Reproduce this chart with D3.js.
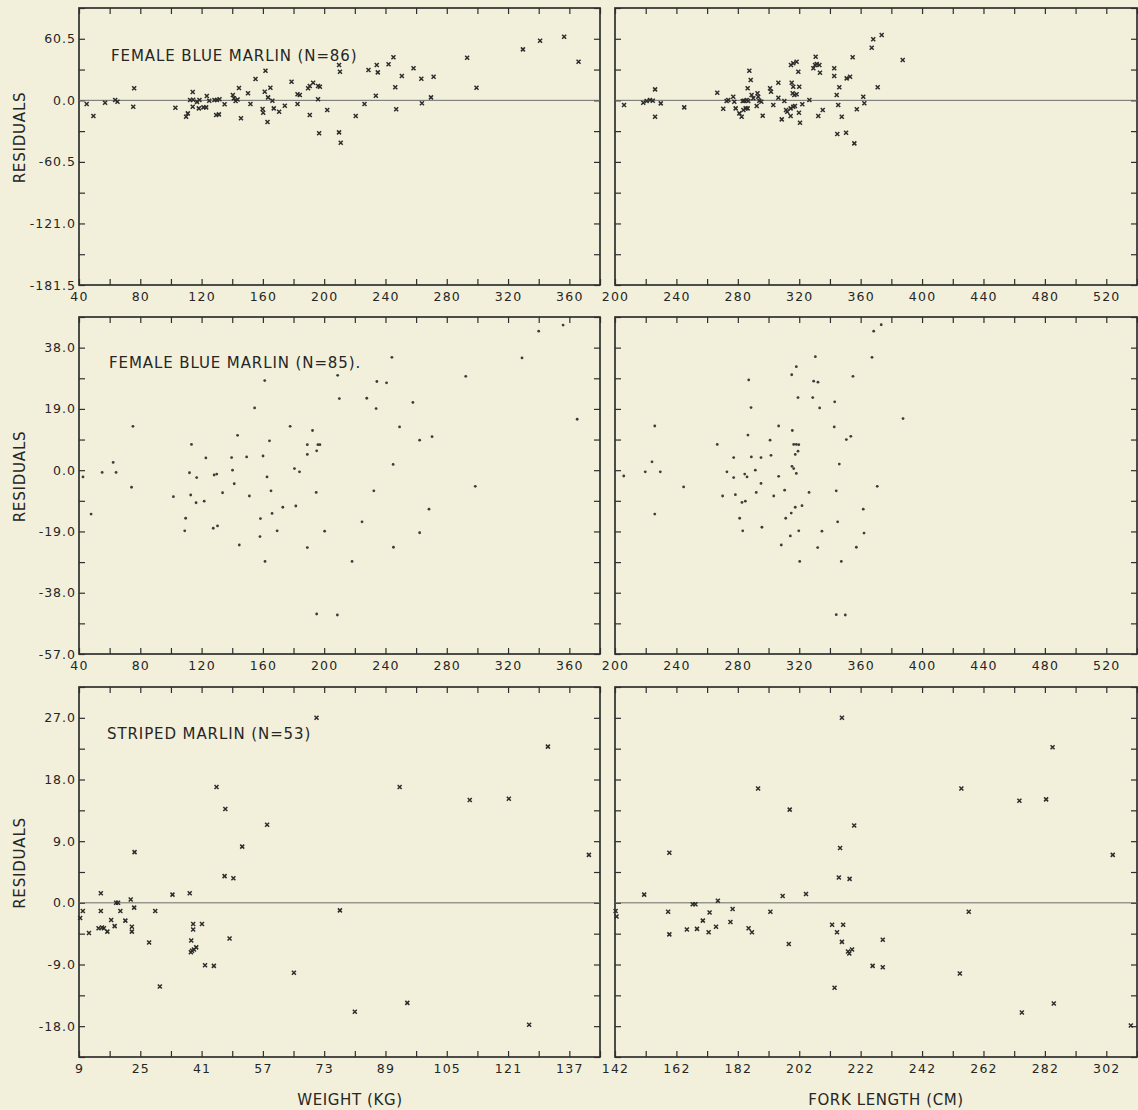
<!DOCTYPE html>
<html><head><meta charset="utf-8">
<script src="https://cdn.jsdelivr.net/npm/d3@7"></script>
<style>
html,body{margin:0;padding:0;background:#f2f0db;}
svg{display:block;}
text{font-family:"DejaVu Sans",sans-serif;fill:#262626;}
</style></head><body>
<svg id="chart" width="1138" height="1110"></svg>
<script>
// ---------- tick label values ----------
const blueWeightLabels = [40, 80, 120, 160, 200, 240, 280, 320, 360];
const blueLengthLabels = [200, 240, 280, 320, 360, 400, 440, 480, 520];
const stripedWeightLabels = [9, 25, 41, 57, 73, 89, 105, 121, 137];
const stripedLengthLabels = [142, 162, 182, 202, 222, 242, 262, 282, 302];
const resid86Labels = [-181.5, -121.0, -60.5, 0.0, 60.5];
const resid85Labels = [-57.0, -38.0, -19.0, 0.0, 19.0, 38.0];
const resid53Labels = [-18.0, -9.0, 0.0, 9.0, 18.0, 27.0];

// ---------- series: [x, residual] ----------
const blue86Weight = [[45,-3.6],[49.4,-15.4],[57,-2.4],[63.6,0.3],[65.1,-1.4],[76,11.8],[75.4,-6.3],[102.9,-7.3],[109.9,-16.1],[111,-12.8],[114.2,8.2],[112.5,0.3],[114.5,0.5],[114.2,-6.3],[117,-1.5],[118.2,-7.9],[118.6,0.3],[123,-6.9],[121.2,-6.9],[123.4,4.2],[125,-0.5],[128.4,0.3],[130,0.3],[131.7,1],[129.5,-14.4],[131.3,-13.8],[135,-3.9],[140.4,5.2],[141.1,2],[142.2,-0.7],[143.5,0.8],[144.4,12.1],[145.7,-17.7],[150.3,6.9],[151.9,-3.6],[155.2,20.9],[159.8,-8.6],[160.2,-12.2],[161.7,29.1],[161.2,8.5],[163,-21.3],[163.4,2.9],[164.9,12.4],[166.2,-0.4],[167.1,-7.9],[170.6,-11.2],[174.3,-5.3],[178.7,18.3],[182.6,5.9],[184.1,5.2],[182.6,-3.6],[189.5,11.8],[190.6,14.1],[192.8,17.3],[190.6,-14.4],[196,14.1],[197.2,13.4],[196,1],[196.7,-32.4],[202,-9.5],[209.7,34.7],[210.3,28.1],[209.7,-31.5],[210.8,-41.7],[220.6,-15.4],[226.3,-3.6],[228.9,29.8],[234.3,34.7],[235,27.5],[233.7,4.5],[242,35.4],[245.2,42.3],[246.4,12.8],[247,-8.8],[250.7,23.9],[258.3,31.5],[263.4,21.2],[263.8,-2.9],[269.7,2.9],[271.4,23.2],[293.3,41.9],[299.4,12.4],[329.7,50.1],[340.9,58.6],[356.6,62.5],[366,37.9]];

const blue86Length = [[205.9,-4.6],[218.4,-2.4],[220.6,-0.7],[222.8,0.3],[224.6,-0.4],[226.1,10.8],[226.1,-16.1],[229.8,-3],[245.1,-6.9],[266.6,7.5],[270.5,-8.3],[272.7,-0.7],[273.8,0.3],[277,3.5],[277.7,-1.4],[278.6,-7.9],[281,-12.8],[282.5,-16.1],[283.2,-0.7],[284.2,-0.4],[285.8,0.3],[286.8,-0.7],[283.6,-9.5],[285.1,-7.9],[286.4,-7.9],[286.4,11.8],[287.5,29.1],[288.4,20],[289,5.2],[290.1,2],[292.8,6.9],[293.3,3.5],[294,-0.4],[295.3,-1.4],[292.3,-5.6],[296.2,-15.1],[301,11.8],[301.6,8.5],[303.1,-4.6],[306.4,17.3],[306.4,2.6],[308.6,-18.7],[310.3,-0.7],[311.4,-9.5],[312.2,-11.2],[314.6,34.7],[316.1,36.4],[318.3,38],[315.1,17.3],[316.1,13.4],[320,13.4],[315.7,6.9],[316.8,5.2],[318.3,5.9],[314.4,-7.9],[316.1,-6.3],[317.2,-5.6],[314.4,-15.4],[319.4,28.1],[319.8,-12.2],[320.5,-22],[322,-3.9],[326.6,0.3],[329.2,31.5],[330.3,34.7],[331.4,35.7],[333.1,34.7],[330.7,42.9],[333.5,27.1],[332.4,-15.4],[335.3,-9.5],[342.8,31.5],[342.8,23.9],[344.4,5.2],[344.8,-33.1],[345.4,-4.6],[346.1,12.8],[347.7,-16.1],[350.5,-31.8],[350.9,21.6],[353.1,23.2],[354.8,42.3],[355.9,-42.3],[357.5,-8.8],[361.7,3.5],[362.4,-2.9],[367.2,51.7],[368.2,60],[371.1,12.8],[373.7,64.2],[387.4,39.6]];

const blue85Weight = [[42.6,-2.1],[47.9,-13.6],[55.1,-0.7],[64.2,-0.7],[62.3,2.4],[74.3,-5.3],[75.2,13.6],[101.6,-8.2],[109,-18.8],[109.6,-14.9],[112.1,-0.8],[112.9,-7.7],[113.4,8],[116.4,-10.1],[116.8,-2.3],[121.7,-9.6],[122.8,3.8],[127.6,-18],[130.4,-17.3],[128.2,-1.5],[129.9,-1.2],[133.7,-7],[139.6,3.9],[140.2,0],[141.3,-4.2],[143.5,10.8],[144.6,-23.2],[149.4,4.1],[151.2,-8],[154.6,19.3],[158.4,-15],[158.1,-20.6],[160.1,4.4],[161.2,27.8],[161.4,-28.3],[162.7,-2.1],[164.3,9.1],[165.3,-6.4],[166,-13.4],[169.3,-18.8],[173,-11.5],[177.8,13.6],[180.6,0.5],[183.9,-0.5],[181.5,-11.1],[189,7.9],[189,4.9],[189,-24],[192.4,12.3],[194.8,-6.9],[195.1,6],[195.9,7.9],[197.2,7.9],[195.1,-44.6],[200.3,-18.9],[208.6,-44.9],[208.8,29.4],[209.9,22.2],[218.2,-28.3],[224.7,-16],[227.8,22.3],[232.4,-6.4],[233.9,19.1],[234.4,27.5],[240.7,27.1],[244.2,35],[245,1.8],[245.2,-23.9],[249.2,13.4],[257.9,21],[262.3,9.3],[262.3,-19.4],[268.4,-12.1],[270.4,10.4],[292.4,29.1],[298.6,-5],[329.1,34.8],[340,43.1],[355.9,45],[365.1,15.8]];

const blue85Length = [[205.7,-1.8],[219.7,-0.5],[229.5,-0.5],[224.1,2.6],[225.9,13.7],[225.9,-13.6],[244.7,-5.2],[266.6,8],[270.1,-8],[272.9,-0.5],[277.3,3.9],[277.3,-2.3],[278.4,-7.6],[281.2,-14.9],[283.2,-18.8],[282.7,-10],[284.9,-9.6],[284.5,-1.2],[286,-2.1],[286.6,10.9],[287.1,28],[288.6,19.4],[288.8,4.1],[291.4,0],[292,-6.9],[295.1,-4.1],[295.1,3.9],[295.7,-17.7],[301,9.3],[301.6,4.6],[303.4,-8],[306.6,13.7],[306.6,-1.9],[308.3,-23.2],[310.5,-6.2],[311.2,-14.9],[314.2,-20.4],[314.8,-13.3],[315.1,29.6],[315.5,12.3],[315.3,1.2],[316.4,0.5],[316.4,8],[318.1,8],[319.7,7.9],[317.4,4.9],[319.2,5.9],[317.4,-11.5],[318.1,32.1],[319.2,22.5],[318.1,-1],[319.7,-18.8],[320.3,-28.3],[321.8,-11],[326.4,-6.9],[328.8,22.5],[329.4,27.6],[332.2,27.3],[330.5,35.2],[332,-24],[333.3,19.3],[334.8,-18.9],[342.8,13.4],[343.1,21.2],[344.1,-44.8],[344.1,-6.4],[345,-16],[346.1,1.9],[347.4,-28.3],[350,-44.9],[350.7,9.5],[353.6,10.5],[355,29.1],[357.2,-23.9],[361.7,-12.1],[362.2,-19.5],[367.4,35],[368.5,43.1],[370.8,-5],[373.4,45.1],[387.6,16]];

const striped53Weight = [[9.3,-2.2],[10,-1.2],[11.6,-4.4],[14.7,1.4],[14.7,-1.2],[14.1,-3.7],[15,-3.6],[15.5,-3.7],[16.4,-4.2],[17.4,-2.5],[18.3,-3.4],[18.7,0],[19.2,0],[19.8,-1.2],[21.1,-2.6],[22.5,0.5],[22.8,-3.5],[22.8,-4.2],[23.4,-0.7],[23.5,7.4],[27.3,-5.8],[28.9,-1.2],[30.1,-12.2],[33.4,1.2],[37.9,1.4],[38.3,-5.5],[38.2,-7.2],[38.5,-7],[39,-6.8],[39.6,-6.5],[38.8,-3.1],[38.8,-3.9],[41.1,-3.1],[41.9,-9.1],[44.2,-9.2],[44.9,16.9],[47,3.9],[47.2,13.7],[48.3,-5.2],[49.3,3.6],[51.6,8.2],[58.1,11.4],[65.1,-10.2],[71,27],[77.1,-1.1],[81,-15.9],[92.7,16.9],[94.7,-14.6],[111,15],[121.2,15.2],[126.5,-17.8],[131.4,22.8],[142.1,7]];

const striped53Length = [[142.2,-1.2],[142.5,-2],[151.5,1.2],[159.3,-1.3],[159.7,7.3],[159.7,-4.6],[165.4,-3.9],[167.3,-0.2],[168.2,-0.2],[168.7,-3.8],[170.6,-2.6],[172.5,-4.3],[172.8,-1.4],[174.9,-3.5],[175.5,0.3],[179.6,-2.8],[180.3,-0.9],[185.5,-3.7],[186.6,-4.3],[188.6,16.7],[192.6,-1.3],[196.6,1],[198.6,-6],[198.9,13.6],[204.2,1.3],[212.7,-3.2],[213.5,-12.4],[214.3,-4.3],[214.9,3.7],[215.3,8],[215.9,27],[215.9,-5.7],[216.3,-3.2],[217.9,-7.1],[218.3,-7.4],[219.2,-6.8],[218.4,3.5],[219.9,11.3],[225.9,-9.2],[229.2,-5.4],[229.2,-9.4],[254.3,-10.3],[254.8,16.7],[257.2,-1.3],[273.7,14.9],[274.5,-16],[282.4,15.1],[284.5,22.7],[284.9,-14.7],[304.1,7],[310,-17.9]];

// ---------- layout ----------
const rows = [{top: 8, bottom: 285}, {top: 317, bottom: 654}, {top: 687, bottom: 1057}];
const cols = [{left: 79, right: 600}, {left: 615, right: 1137}];

const panels = [
  {r:0,c:0,data:blue86Weight,xDomain:[40,380],xStep:20,xLabels:blueWeightLabels,yDomain:[-181.5,90.75],yStep:30.25,yLabels:resid86Labels,zero:true,mark:"x",title:"FEMALE BLUE MARLIN (N=86)",tx:111,ty:61},
  {r:0,c:1,data:blue86Length,xDomain:[200,540],xStep:20,xLabels:blueLengthLabels,yDomain:[-181.5,90.75],yStep:30.25,yLabels:null,zero:true,mark:"x"},
  {r:1,c:0,data:blue85Weight,xDomain:[40,380],xStep:20,xLabels:blueWeightLabels,yDomain:[-57,47.5],yStep:9.5,yLabels:resid85Labels,zero:false,mark:"dot",title:"FEMALE BLUE MARLIN (N=85).",tx:109,ty:368},
  {r:1,c:1,data:blue85Length,xDomain:[200,540],xStep:20,xLabels:blueLengthLabels,yDomain:[-57,47.5],yStep:9.5,yLabels:null,zero:false,mark:"dot"},
  {r:2,c:0,data:striped53Weight,xDomain:[9,145],xStep:8,xLabels:stripedWeightLabels,yDomain:[-22.5,31.5],yStep:4.5,yLabels:resid53Labels,zero:true,mark:"x",title:"STRIPED MARLIN (N=53)",tx:107,ty:739},
  {r:2,c:1,data:striped53Length,xDomain:[142,312],xStep:10,xLabels:stripedLengthLabels,yDomain:[-22.5,31.5],yStep:4.5,yLabels:null,zero:true,mark:"x"}
];

const svg = d3.select("#chart");
svg.append("rect").attr("width",1138).attr("height",1110).attr("fill","#f2f0db");
const ink = "#2f2f2f";

panels.forEach(p => {
  const R = rows[p.r], C = cols[p.c];
  const x = d3.scaleLinear().domain(p.xDomain).range([C.left, C.right]);
  const y = d3.scaleLinear().domain(p.yDomain).range([R.bottom, R.top]);
  const xMinor = d3.range(p.xDomain[0], p.xDomain[1] + 1e-6, p.xStep);
  const yMinor = d3.range(p.yDomain[0], p.yDomain[1] + 1e-6, p.yStep);
  const g = svg.append("g");

  const tickStyle = sel => {
    sel.select(".domain").remove();
    sel.selectAll("line").attr("stroke", ink).attr("stroke-width", 1.2);
  };
  g.append("g").attr("transform",`translate(0,${R.bottom})`)
    .call(d3.axisBottom(x).tickValues(xMinor).tickSize(-6).tickFormat("")).call(tickStyle);
  g.append("g").attr("transform",`translate(0,${R.top})`)
    .call(d3.axisTop(x).tickValues(xMinor).tickSize(-6).tickFormat("")).call(tickStyle);
  g.append("g").attr("transform",`translate(${C.left},0)`)
    .call(d3.axisLeft(y).tickValues(yMinor).tickSize(-6).tickFormat("")).call(tickStyle);
  g.append("g").attr("transform",`translate(${C.right},0)`)
    .call(d3.axisRight(y).tickValues(yMinor).tickSize(-6).tickFormat("")).call(tickStyle);

  // frame
  g.append("rect").attr("x", C.left).attr("y", R.top)
    .attr("width", C.right - C.left).attr("height", R.bottom - R.top)
    .attr("fill","none").attr("stroke", ink).attr("stroke-width", 1.7);

  // x labels
  const xl = g.append("g").attr("transform",`translate(0,${R.bottom})`)
    .call(d3.axisBottom(x).tickValues(p.xLabels).tickSize(0).tickPadding(7).tickFormat(d => String(d)));
  xl.select(".domain").remove();
  xl.selectAll("text").attr("font-size", 12.5).attr("letter-spacing", 1.2)
    .attr("font-family", "DejaVu Sans").attr("fill", "#262626");

  if (p.yLabels) {
    const yl = g.append("g").attr("transform",`translate(${C.left},0)`)
      .call(d3.axisLeft(y).tickValues(p.yLabels).tickSize(0).tickPadding(3).tickFormat(d => d.toFixed(1)));
    yl.select(".domain").remove();
    yl.selectAll("text").attr("font-size", 12.5).attr("letter-spacing", 1)
      .attr("font-family", "DejaVu Sans").attr("fill", "#262626");
    // axis title
    const cy = (R.top + R.bottom) / 2 - 9;
    g.append("text").attr("transform", `translate(25,${cy}) rotate(-90)`)
      .attr("text-anchor","middle").attr("font-size", 15).attr("letter-spacing", 0.8)
      .text("RESIDUALS");
  }

  if (p.zero) {
    g.append("line").attr("x1", C.left).attr("x2", C.right)
      .attr("y1", y(0)).attr("y2", y(0)).attr("stroke", "#6a6a6a").attr("stroke-width", 1);
  }

  if (p.mark === "x") {
    g.append("g").selectAll("path").data(p.data).join("path")
      .attr("transform", d => `translate(${x(d[0])},${y(d[1])})`)
      .attr("d", "M-2,-2L2,2M-2,2L2,-2")
      .attr("stroke", "#2c2c2c").attr("stroke-width", 1.5).attr("fill","none");
  } else {
    g.append("g").selectAll("circle").data(p.data).join("circle")
      .attr("cx", d => x(d[0])).attr("cy", d => y(d[1])).attr("r", 1.4)
      .attr("fill", "#3c3c3c");
  }

  if (p.title) {
    g.append("text").attr("x", p.tx).attr("y", p.ty)
      .attr("font-size", 15).attr("letter-spacing", 0.9).text(p.title);
  }
});

svg.append("text").attr("x", 350).attr("y", 1105).attr("text-anchor","middle")
  .attr("font-size", 15).attr("letter-spacing", 0.6).text("WEIGHT (KG)");
svg.append("text").attr("x", 886).attr("y", 1105).attr("text-anchor","middle")
  .attr("font-size", 15).attr("letter-spacing", 0.6).text("FORK LENGTH (CM)");
</script>
</body></html>
